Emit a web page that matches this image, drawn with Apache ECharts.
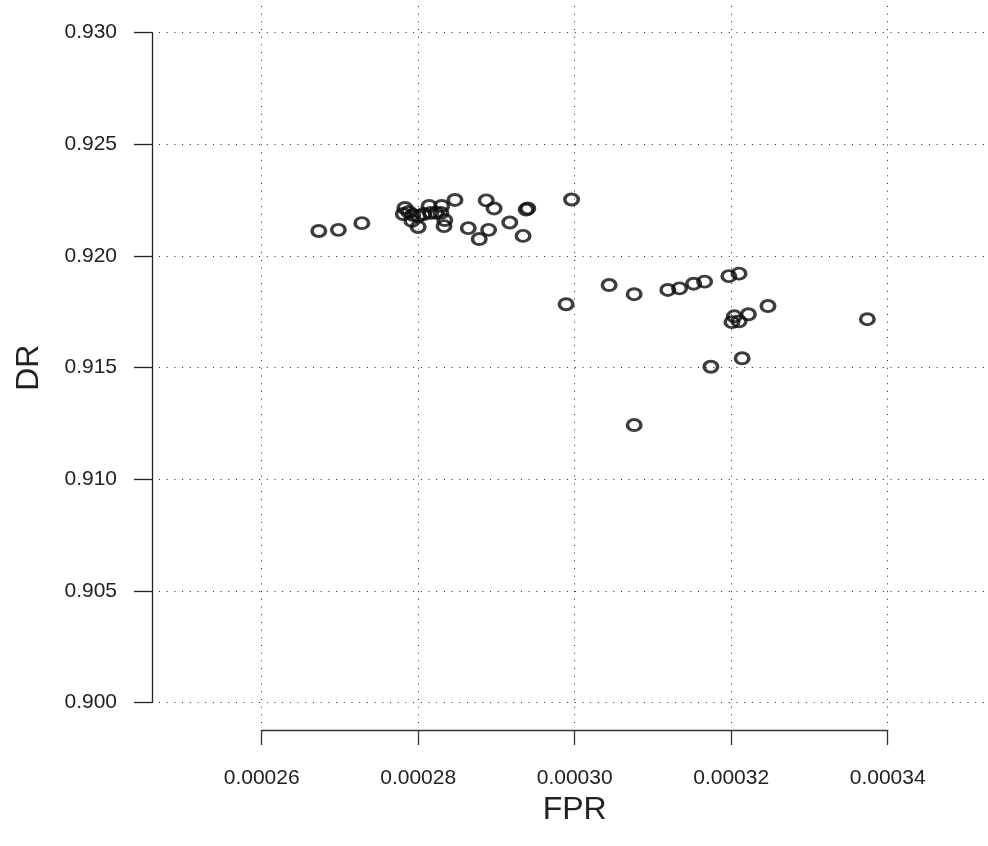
<!DOCTYPE html>
<html>
<head>
<meta charset="utf-8">
<title>DR vs FPR</title>
<script src="https://cdn.jsdelivr.net/npm/echarts@6/dist/echarts.min.js"></script>
<style>
  html, body { margin: 0; padding: 0; background: #ffffff; }
  #chart { width: 988px; height: 846px; }
</style>
</head>
<body>
<div id="chart"></div>
<script>
// Tick values of both axes
const xTicks = [0.00026, 0.00028, 0.00030, 0.00032, 0.00034];
const yTicks = [0.900, 0.905, 0.910, 0.915, 0.920, 0.925, 0.930];

// Observations: false positive rate and detection rate
const fpr = [
  0.0002673, 0.0002698, 0.0002728,
  0.0002783, 0.0002781, 0.0002788, 0.0002793, 0.0002800, 0.0002792, 0.0002800,
  0.0002807, 0.0002814, 0.0002816, 0.0002823, 0.0002829, 0.0002830, 0.0002834,
  0.0002833, 0.0002847,
  0.0002864, 0.0002878, 0.0002890, 0.0002887, 0.0002897, 0.0002917, 0.0002934,
  0.0002938, 0.0002940, 0.0002996,
  0.0002989, 0.0003044, 0.0003076, 0.0003119, 0.0003134, 0.0003152, 0.0003166,
  0.0003197, 0.0003210, 0.0003204, 0.0003201, 0.0003210, 0.0003222, 0.0003247,
  0.0003374, 0.0003214, 0.0003174, 0.0003076
];
const dr = [
  0.92112, 0.92117, 0.92147,
  0.92215, 0.92188, 0.92197, 0.92184, 0.92179, 0.92157, 0.92130,
  0.92188, 0.92224, 0.92193, 0.92193, 0.92193, 0.92224, 0.92161,
  0.92134, 0.92251,
  0.92125, 0.92076, 0.92117, 0.92249, 0.92213, 0.92150, 0.92090,
  0.92208, 0.92213, 0.92253,
  0.91784, 0.91870, 0.91829, 0.91848, 0.91855, 0.91876, 0.91885,
  0.91910, 0.91921, 0.91730, 0.91704, 0.91707, 0.91739, 0.91776,
  0.91717, 0.91542, 0.91504, 0.91243
];

// Layout (pixels): the axis span between first and last tick,
// and the wider plotting region that holds the dotted grid.
const W = 988, H = 846;
const tick = { left: 261.7, right: 887.7, top: 32.7, bottom: 702.6 };
const plot = { left: 159, right: 988, top: 5, bottom: 723 };

const xMin = xTicks[0], xMax = xTicks[xTicks.length - 1];
const yMin = yTicks[0], yMax = yTicks[yTicks.length - 1];
const xPerPx = (xMax - xMin) / (tick.right - tick.left);
const yPerPx = (yMax - yMin) / (tick.bottom - tick.top);

// Value range of the plotting region, consistent with the tick span scale
const pxMin = xMin - (tick.left - plot.left) * xPerPx;
const pxMax = xMax + (plot.right - tick.right) * xPerPx;
const pyMax = yMax + (tick.top - plot.top) * yPerPx;
const pyMin = yMin - (plot.bottom - tick.bottom) * yPerPx;

const points = fpr.map((v, i) => [v, dr[i]]);

// Dotted reference lines across the whole plotting region
const gridLines = xTicks.map(v => [{ coord: [v, pyMin] }, { coord: [v, pyMax] }])
  .concat(yTicks.map(v => [{ coord: [pxMin, v] }, { coord: [pxMax, v] }]));

const gridLine = { type: [1, 6.7], color: '#222', width: 1 };
const labelFont = { fontFamily: 'Liberation Sans, Arial, sans-serif', fontSize: 21, color: '#222' };
const titleFont = { fontFamily: 'Liberation Sans, Arial, sans-serif', fontSize: 32, color: '#222' };

const chart = echarts.init(document.getElementById('chart'), null, { renderer: 'canvas' });
chart.setOption({
  animation: false,
  backgroundColor: '#ffffff',
  grid: [
    { left: plot.left, right: W - plot.right, top: plot.top, bottom: H - plot.bottom,
      containLabel: false, outerBoundsMode: 'none' },
    { left: tick.left, right: W - tick.right, top: tick.top, bottom: H - tick.bottom,
      containLabel: false, outerBoundsMode: 'none' }
  ],
  xAxis: [
    { type: 'value', gridIndex: 0, min: pxMin, max: pxMax, show: false, splitLine: { show: false } },
    {
      type: 'value', gridIndex: 1, min: xMin, max: xMax, interval: 0.00002,
      offset: 730 - tick.bottom,
      axisLine: { show: true, lineStyle: { color: '#333', width: 1.3 } },
      axisTick: { show: true, length: 15, lineStyle: { color: '#333', width: 1.3 } },
      axisLabel: Object.assign({ margin: 38, formatter: v => v.toFixed(5) }, labelFont),
      splitLine: { show: false },
      name: 'FPR', nameLocation: 'middle', nameGap: 59,
      nameTextStyle: titleFont
    }
  ],
  yAxis: [
    { type: 'value', gridIndex: 0, min: pyMin, max: pyMax, show: false, splitLine: { show: false } },
    {
      type: 'value', gridIndex: 1, min: yMin, max: yMax, interval: 0.005,
      offset: tick.left - 152,
      axisLine: { show: true, lineStyle: { color: '#222', width: 1.3 } },
      axisTick: { show: true, length: 18, lineStyle: { color: '#222', width: 1.3 } },
      axisLabel: Object.assign({ margin: 35, formatter: v => v.toFixed(3) }, labelFont),
      splitLine: { show: false },
      name: 'DR', nameLocation: 'middle', nameGap: 107, nameRotate: 90,
      nameTextStyle: titleFont
    }
  ],
  series: [
    {
      type: 'scatter',
      xAxisIndex: 0, yAxisIndex: 0,
      data: points,
      symbol: 'circle',
      symbolSize: [13.5, 11],
      itemStyle: { color: 'rgba(0,0,0,0)', borderColor: '#0d0d0d', borderWidth: 3.2 },
      emphasis: { disabled: true },
      markLine: {
        silent: true,
        symbol: ['none', 'none'],
        label: { show: false },
        lineStyle: gridLine,
        data: gridLines
      },
      z: 3
    },
    { type: 'scatter', xAxisIndex: 1, yAxisIndex: 1, data: [] }
  ]
});
</script>
</body>
</html>
